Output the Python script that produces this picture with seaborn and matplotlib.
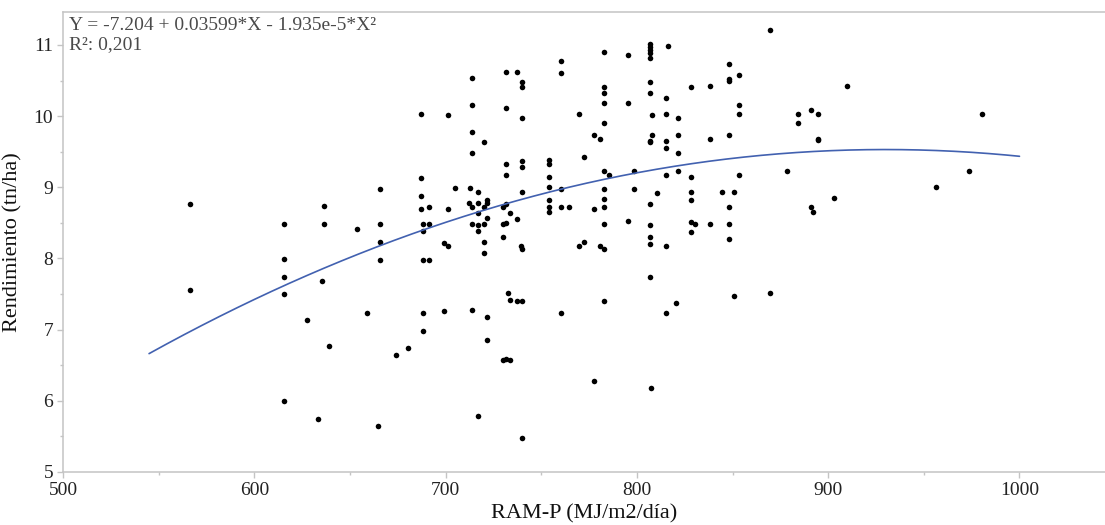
import numpy as np
import pandas as pd
import matplotlib
matplotlib.use("Agg")
import matplotlib.pyplot as plt
from matplotlib.ticker import MultipleLocator
import seaborn as sns

# RAM-P (MJ/m2/dia) and yield (tn/ha), grouped by x column
ram_p = [
    566.3, 566.3,
    615.6, 615.6, 615.6, 615.6, 615.6,
    636.5, 636.5, 635.4, 627.6, 639.2, 633.3,
    653.7, 658.9,
    665.5, 665.5, 665.5, 665.5, 664.5,
    673.9, 680.2,
    686.9, 686.9, 686.9, 686.9,
    688.3, 688.3, 688.3, 688.3, 688.3,
    691.5, 691.5, 691.5,
    699.2, 699.2, 701.2, 701.2, 701.2, 704.7,
    713.8, 713.8, 713.8, 713.8, 713.8, 713.8, 713.8, 712.9, 712.2,
    717.1, 717.1, 717.1, 717.1, 717.1, 717.1,
    720.2, 720.2, 720.2, 720.2, 720.2,
    721.9, 721.9, 721.9, 721.9, 721.9,
    730.1, 730.1, 730.1, 730.1,
    731.5, 731.5, 731.5, 731.5, 731.5, 731.5, 731.5,
    733.8, 733.8, 733.8, 732.8,
    737.1, 737.1, 737.1,
    739.7, 739.7, 739.7, 739.7,
    740.2, 740.2, 740.2, 740.2, 740.2, 739.4,
    754.1, 754.1, 754.1, 754.1, 754.1, 754.1, 754.1,
    760.5, 760.5, 760.5, 760.5, 760.5, 764.3,
    770.0, 770.0, 772.6, 772.6,
    777.7, 777.7, 777.7, 780.8, 780.8,
    782.6, 782.6, 782.6, 782.6, 782.6, 782.6, 782.6, 782.6, 782.6, 782.6, 782.6, 782.6,
    785.5, 795.1, 795.1, 795.1, 798.6, 798.6,
    806.8, 806.8, 806.8, 806.8, 806.8, 806.8, 806.8, 806.8, 806.8, 806.8, 806.8, 806.8, 806.8, 806.8,
    807.8, 807.8, 807.5, 810.3, 816.2,
    815.0, 815.0, 815.0, 815.0, 815.0, 815.0, 815.0,
    821.6, 821.6, 821.6, 821.6, 820.7,
    828.4, 828.4, 828.4, 828.4, 828.4, 828.4, 830.3,
    838.3, 838.3, 838.3, 844.6,
    848.2, 848.2, 848.2, 848.2, 848.2, 847.9, 847.9,
    850.8, 850.8,
    853.4, 853.4, 853.4, 853.4,
    869.5, 869.5, 878.7, 884.4, 884.4,
    891.1, 891.1, 891.8, 894.6, 894.6, 894.6,
    902.9, 909.9, 956.2, 973.6, 980.5,
]
rendimiento = [
    8.76, 7.56,
    8.49, 7.99, 7.74, 7.50, 6.00,
    8.74, 8.49, 7.69, 7.14, 6.77, 5.75,
    8.42, 7.23,
    8.98, 8.48, 8.23, 7.98, 5.65,
    6.64, 6.74,
    10.03, 9.13, 8.88, 8.70,
    8.48, 8.38, 7.98, 7.23, 6.98,
    8.73, 8.48, 7.98,
    8.22, 7.26, 8.18, 10.02, 8.70, 8.99,
    10.54, 10.16, 9.78, 9.48, 7.27, 8.48, 8.73, 8.99, 8.78,
    8.94, 8.78, 8.64, 8.47, 8.38, 5.78,
    9.63, 8.73, 8.48, 8.23, 8.08,
    8.82, 8.78, 8.57, 7.18, 6.86,
    8.73, 8.48, 8.30, 6.57,
    8.50, 8.77, 10.62, 10.11, 9.33, 9.18, 6.59,
    8.64, 7.42, 6.57, 7.51,
    10.62, 8.56, 7.40,
    10.48, 10.41, 9.28, 5.48,
    9.98, 9.37, 8.94, 8.14, 7.40, 8.18,
    9.38, 9.33, 9.14, 9.00, 8.82, 8.73, 8.65,
    10.77, 10.61, 8.98, 8.73, 7.23, 8.73,
    10.03, 8.18, 9.43, 8.23,
    9.73, 8.69, 6.28, 9.68, 8.18,
    8.14, 10.90, 10.41, 10.33, 10.18, 9.91, 9.23, 8.98, 8.83, 8.73, 8.48, 7.40,
    9.17, 10.86, 10.18, 8.53, 9.23, 8.98,
    11.01, 10.97, 10.93, 10.89, 10.82, 10.48, 10.33, 9.65, 9.63, 8.77, 8.47, 8.30, 8.21, 7.74,
    10.02, 9.73, 6.18, 8.92, 10.98,
    10.25, 10.03, 9.65, 9.55, 9.17, 8.18, 7.23,
    9.98, 9.73, 9.48, 9.23, 7.37,
    10.41, 9.14, 8.94, 8.82, 8.51, 8.37, 8.48,
    10.42, 9.68, 8.48, 8.93,
    10.73, 9.73, 8.73, 8.48, 8.28, 10.52, 10.49,
    8.94, 7.47,
    10.58, 10.16, 10.03, 9.18,
    11.21, 7.51, 9.23, 10.03, 9.90,
    10.08, 8.73, 8.66, 10.03, 9.68, 9.66,
    8.85, 10.42, 9.00, 9.23, 10.03,
]

# quadratic fit printed on the chart: Y = b0 + b1*X + b2*X^2
fit_coefs = [-7.204, 0.03599, -1.935e-5]
fit_range = [545, 1000]
eq_text = "Y = -7.204 + 0.03599*X - 1.935e-5*X\u00b2"
r2_text = "R\u00b2: 0,201"

df = pd.DataFrame({"x": ram_p, "y": rendimiento})
xs = np.linspace(fit_range[0], fit_range[1], 200)
fit = pd.DataFrame({"x": xs, "y": np.polyval(fit_coefs[::-1], xs)})

sns.set_theme(style="white")
plt.rcParams["font.family"] = ["Liberation Serif", "DejaVu Serif"]

fig = plt.figure(figsize=(11.05, 5.25), dpi=100)
ax = fig.add_axes([0.057, 0.101, 0.943, 0.877])

sns.lineplot(data=fit, x="x", y="y", ax=ax, color="#4261b0", linewidth=1.2)
sns.scatterplot(data=df, x="x", y="y", ax=ax, color="black", s=16, linewidth=0)

ax.set_xlim(500, 1044.7)
ax.set_ylim(5, 11.47)
ax.xaxis.set_major_locator(MultipleLocator(100))
ax.xaxis.set_minor_locator(MultipleLocator(50))
ax.yaxis.set_major_locator(MultipleLocator(1))
ax.yaxis.set_minor_locator(MultipleLocator(0.5))

gray = "#c4c4c4"
for side in ["left", "bottom", "top"]:
    ax.spines[side].set_color(gray)
    ax.spines[side].set_linewidth(1.1)
ax.spines["right"].set_visible(False)

ax.tick_params(which="both", direction="out", color=gray, width=1,
               bottom=True, left=True, labelsize=14, labelcolor="#222222")
ax.tick_params(which="major", length=4, pad=3)
ax.tick_params(which="minor", length=2.5)

ax.set_xlabel("RAM-P (MJ/m2/día)", fontsize=16, color="#111111", labelpad=4)
ax.set_ylabel("Rendimiento (tn/ha)", fontsize=16, color="#111111", labelpad=8)

ax.annotate(eq_text + "\n" + r2_text, xy=(0, 1), xycoords="axes fraction",
            xytext=(4, -4), textcoords="offset points", va="top", ha="left",
            fontsize=14, color="#4a4a4a", linespacing=1.15)

fig.savefig("out.png", dpi=100)
